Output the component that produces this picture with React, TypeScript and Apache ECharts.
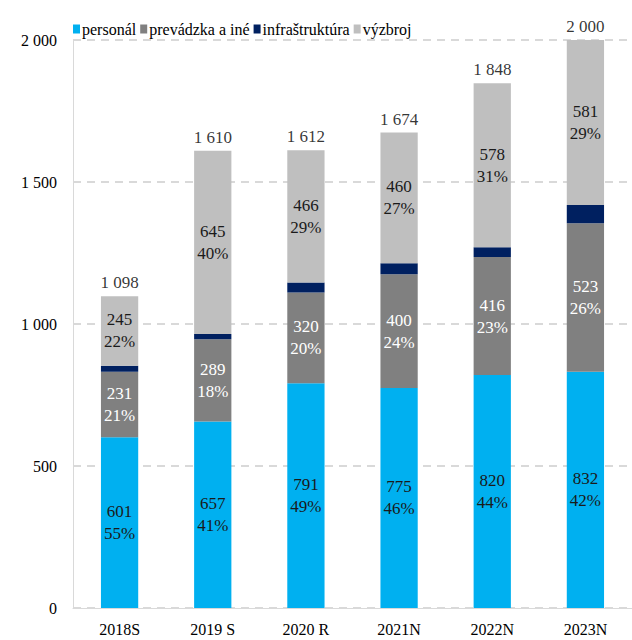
import React, { useEffect, useRef } from "react";
import * as echarts from "echarts";

const categories = ["2018S", "2019 S", "2020 R", "2021N", "2022N", "2023N"];
const personal = [601, 657, 791, 775, 820, 832];
const prevadzka = [231, 289, 320, 400, 416, 523];
const infra = [21, 19, 35, 39, 34, 64];
const vyzbroj = [245, 645, 466, 460, 578, 581];
const totals = [1098, 1610, 1612, 1674, 1848, 2000];
const personalPct = [55, 41, 49, 46, 44, 42];
const prevadzkaPct = [21, 18, 20, 24, 23, 26];
const vyzbrojPct = [22, 40, 29, 27, 31, 29];

const FONT = "'Times New Roman', 'Liberation Serif', serif";

function fmtNum(v: number): string {
  return String(v).replace(/\B(?=(\d{3})+(?!\d))/g, " ");
}

export default function App() {
  const ref = useRef<HTMLDivElement>(null);
  useEffect(() => {
    if (!ref.current) return;
    const chart = echarts.init(ref.current, null, { renderer: "svg" });
    const innerLabel = (pcts: number[], color: string) => ({
      show: true,
      position: "inside" as const,
      color,
      fontFamily: FONT,
      fontSize: 17,
      lineHeight: 22,
      formatter: (p: any) => `${p.value}\n${pcts[p.dataIndex]}%`,
    });
    chart.setOption({
      animation: false,
      textStyle: { fontFamily: FONT },
      legend: {
        data: ["personál", "prevádzka a iné", "infraštruktúra", "výzbroj"],
        left: 68,
        top: 16,
        itemWidth: 7,
        itemHeight: 9,
        itemGap: 4,
        icon: "rect",
        textStyle: {
          fontFamily: FONT,
          fontSize: 16,
          color: "#000",
          padding: [0, 0, 0, -3],
        },
      },
      grid: { left: 73, right: -16, top: 40, bottom: 32 },
      xAxis: {
        type: "category",
        data: categories,
        axisLine: { show: true, lineStyle: { color: "#D9D9D9", width: 1 } },
        axisTick: { show: false },
        axisLabel: { color: "#000", fontFamily: FONT, fontSize: 16, margin: 13 },
      },
      yAxis: {
        type: "value",
        min: 0,
        max: 2000,
        interval: 500,
        axisLine: { show: true, lineStyle: { color: "#D9D9D9", width: 1 } },
        axisTick: { show: false },
        axisLabel: {
          color: "#000",
          fontFamily: FONT,
          fontSize: 16,
          margin: 16,
          formatter: (v: number) => fmtNum(v),
        },
        splitLine: {
          show: true,
          lineStyle: { color: "#D9D9D9", width: 2, type: [8, 6] },
        },
      },
      series: [
        {
          name: "personál",
          type: "bar",
          stack: "s",
          barWidth: "40%",
          data: personal,
          itemStyle: { color: "#00B0F0" },
          label: innerLabel(personalPct, "#1a1a1a"),
        },
        {
          name: "prevádzka a iné",
          type: "bar",
          stack: "s",
          data: prevadzka,
          itemStyle: { color: "#808080" },
          label: innerLabel(prevadzkaPct, "#ffffff"),
        },
        {
          name: "infraštruktúra",
          type: "bar",
          stack: "s",
          data: infra,
          itemStyle: { color: "#002060" },
        },
        {
          name: "výzbroj",
          type: "bar",
          stack: "s",
          data: vyzbroj,
          itemStyle: { color: "#BFBFBF" },
          label: innerLabel(vyzbrojPct, "#1a1a1a"),
        },
        {
          name: "total",
          type: "scatter",
          data: totals,
          symbolSize: 0,
          silent: true,
          label: {
            show: true,
            position: "top",
            distance: 5,
            color: "#000",
            fontFamily: FONT,
            fontSize: 17,
            formatter: (p: any) => fmtNum(p.value),
          },
        },
      ],
    });
    return () => chart.dispose();
  }, []);
  return (
    <div
      ref={ref}
      style={{ position: "fixed", left: 0, top: 0, width: 632, height: 640, background: "#fff" }}
    />
  );
}
